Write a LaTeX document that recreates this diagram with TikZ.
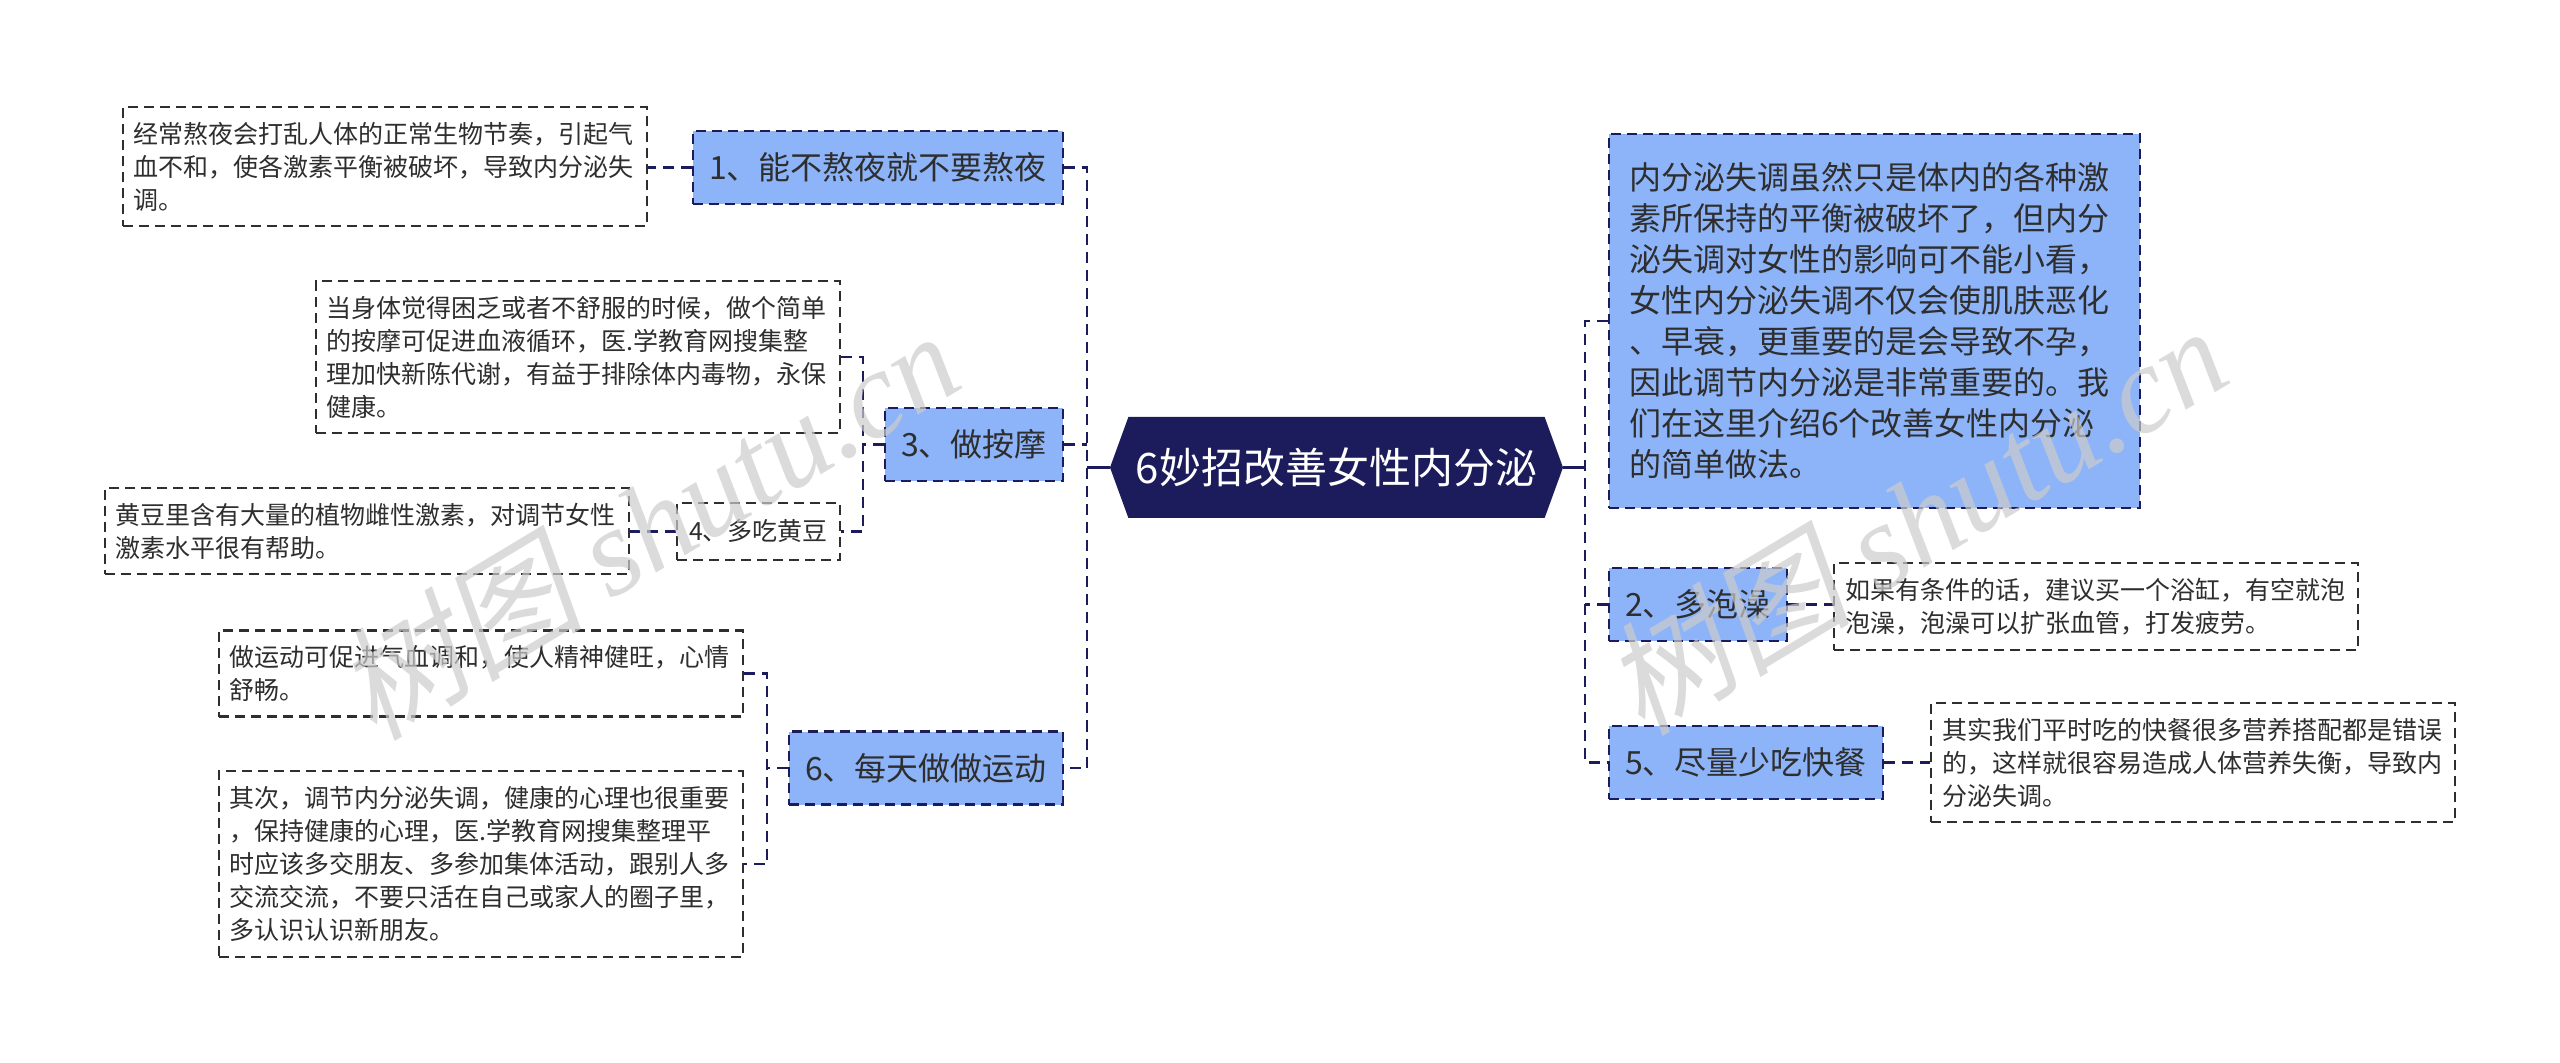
\documentclass[tikz,border=0pt]{standalone}
\usepackage{fontspec}
\setmainfont{Noto Sans CJK SC}
\newfontfamily\wmcjk[FakeSlant=0.2]{Noto Sans CJK SC}
\newfontfamily\wmlatin{Liberation Serif}
\usetikzlibrary{shapes.symbols}
\definecolor{rootnavy}{HTML}{1C1C5C}
\definecolor{branchblue}{HTML}{8DB4F8}
\definecolor{leafgray}{HTML}{2E2E2E}
\begin{document}
\begin{tikzpicture}[x=0.5pt, y=-0.5pt,
		link/.style={draw=rootnavy, line width=1.35pt, dash pattern=on 5.5pt off 3.5pt},
		stem/.style={draw=rootnavy, line width=1.35pt},
		branch/.style={rectangle, draw=rootnavy, fill=branchblue, line width=1.1pt, dash pattern=on 5pt off 3pt,
			text=leafgray, font=\fontsize{16}{20}\selectfont, inner xsep=8pt, minimum height=36.5pt},
		leaf/.style={rectangle, draw=leafgray, fill=white, line width=1.1pt, dash pattern=on 5pt off 3pt,
			text=leafgray, font=\fontsize{12.5}{16.5}\selectfont, text width=251pt, align=left,
			inner xsep=5.5pt, inner ysep=7.5pt},
		small/.style={leaf, text width={}, align=center, inner xsep=6pt, minimum height=28.5pt},
		wmark/.style={text=black!20, opacity=0.7, rotate=31, inner sep=0pt}]
	\useasboundingbox (0, 0) rectangle (2560, 1063);
	% central topic
	\node[signal, signal to=west and east, signal pointer angle=140, fill=rootnavy, text=white,
		minimum width=226.5pt, minimum height=50.5pt, inner sep=0pt,
		font=\fontsize{21}{25}\selectfont] (root) at (1336.5, 467.5) {6妙招改善女性内分泌};
	% spines
	\coordinate (lspine) at (1087, 0);
	\coordinate (rspine) at (1585, 0);
	\coordinate (spthree) at (863, 0);
	\coordinate (spsix) at (767, 0);
	% left branches
	\node[branch, anchor=east] (n1) at (1064, 167.5) {1、能不熬夜就不要熬夜};
	\node[branch, anchor=east] (n3) at (1064, 444.5) {3、做按摩};
	\node[branch, anchor=east] (n6) at (1064, 768) {6、每天做做运动};
	\node[leaf, anchor=east] (leaf1) at (648, 166.5) {经常熬夜会打乱人体的正常生物节奏，引起气\\血不和，使各激素平衡被破坏，导致内分泌失\\调。};
	\node[leaf, anchor=east] (leaf3) at (841, 357) {当身体觉得困乏或者不舒服的时候，做个简单\\的按摩可促进血液循环，医.学教育网搜集整\\理加快新陈代谢，有益于排除体内毒物，永保\\健康。};
	\node[small, anchor=east] (n4) at (841, 531.5) {4、多吃黄豆};
	\node[leaf, anchor=east] (leaf4) at (630, 531) {黄豆里含有大量的植物雌性激素，对调节女性\\激素水平很有帮助。};
	\node[leaf, anchor=east] (leaf6a) at (744, 673.5) {做运动可促进气血调和，使人精神健旺，心情\\舒畅。};
	\node[leaf, anchor=east] (leaf6b) at (744, 864) {其次，调节内分泌失调，健康的心理也很重要\\，保持健康的心理，医.学教育网搜集整理平\\时应该多交朋友、多参加集体活动，跟别人多\\交流交流，不要只活在自己或家人的圈子里，\\多认识认识新朋友。};
	% right branches
	\node[branch, anchor=west, text width=245.5pt, align=left, inner xsep=10pt, minimum height=187pt,
		font=\fontsize{16}{20.5}\selectfont] (intro) at (1608, 321) {内分泌失调虽然只是体内的各种激\\素所保持的平衡被破坏了，但内分\\泌失调对女性的影响可不能小看，\\女性内分泌失调不仅会使肌肤恶化\\、早衰，更重要的是会导致不孕，\\因此调节内分泌是非常重要的。我\\们在这里介绍6个改善女性内分泌\\的简单做法。};
	\node[branch, anchor=west] (n2) at (1608, 604.5) {2、多泡澡};
	\node[branch, anchor=west] (n5) at (1608, 762.5) {5、尽量少吃快餐};
	\node[leaf, anchor=west] (leaf2) at (1833, 606.5) {如果有条件的话，建议买一个浴缸，有空就泡\\泡澡，泡澡可以扩张血管，打发疲劳。};
	\node[leaf, anchor=west] (leaf5) at (1930, 762.5) {其实我们平时吃的快餐很多营养搭配都是错误\\的，这样就很容易造成人体营养失衡，导致内\\分泌失调。};
	% connectors
	\draw[stem] (root.west) -- (root.west -| lspine);
	\draw[stem] (root.east) -- (root.east -| rspine);
	\draw[link] (n1.east) -- (n1.east -| lspine) -- (n6.east -| lspine) -- (n6.east);
	\draw[link] (n3.east) -- (n3.east -| lspine);
	\draw[link] (intro.west) -- (intro.west -| rspine) -- (n5.west -| rspine) -- (n5.west);
	\draw[link] (n2.west) -- (n2.west -| rspine);
	\draw[link] (leaf3.east) -- (leaf3.east -| spthree) -- (n4.east -| spthree) -- (n4.east);
	\draw[link] (n3.west) -- (n3.west -| spthree);
	\draw[link] (leaf6a.east) -- (leaf6a.east -| spsix) -- (leaf6b.east -| spsix) -- (leaf6b.east);
	\draw[link] (n6.west) -- (n6.west -| spsix);
	\foreach \a/\b in {n1/leaf1, n4/leaf4}
		\draw[link] (\a.west) -- (\a.west -| \b.east);
	\foreach \a/\b in {n2/leaf2, n5/leaf5}
		\draw[link] (\a.east) -- (\a.east -| \b.west);
	% watermarks
	\foreach \x/\y/\w in {647/524/wmleft, 1915/519/wmright}
		\node[wmark] (\w) at (\x, \y) {\fontsize{62}{64}\selectfont\wmcjk 树图 \wmlatin\itshape shutu.cn};
\end{tikzpicture}
\end{document}
